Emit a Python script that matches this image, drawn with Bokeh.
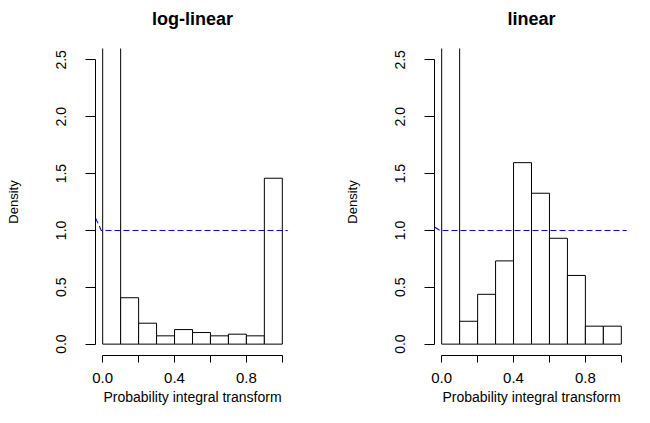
from bokeh.plotting import figure
from bokeh.models import Range1d, FixedTicker, LinearAxis
from bokeh.layouts import row
from bokeh.embed import file_html
from bokeh.resources import INLINE

# ---- data ----
bin_edges = [0.0, 0.1, 0.2, 0.3, 0.4, 0.5, 0.6, 0.7, 0.8, 0.9, 1.0]
loglinear_density = [7.43, 0.408, 0.184, 0.073, 0.128, 0.102, 0.073, 0.0875, 0.073, 1.459]
linear_density = [3.86, 0.201, 0.438, 0.732, 1.596, 1.327, 0.931, 0.604, 0.158, 0.158]
loglinear_ref_x = [-0.04, -0.008, 1.03]
loglinear_ref_y = [1.11, 1.0, 1.0]
linear_ref_x = [-0.04, -0.01, 1.03]
linear_ref_y = [1.03, 1.0, 1.0]
x_ticks = [0.0, 0.2, 0.4, 0.6, 0.8, 1.0]
x_tick_labels = {0.0: "0.0", 0.2: "", 0.4: "0.4", 0.6: "", 0.8: "0.8", 1.0: ""}
y_ticks = [0.0, 0.5, 1.0, 1.5, 2.0, 2.5]
y_tick_labels = {0.0: "0.0", 0.5: "0.5", 1.0: "1.0", 1.5: "1.5", 2.0: "2.0", 2.5: "2.5"}
titles = ["log-linear", "linear"]
x_label = "Probability integral transform"
y_label = "Density"

FONT = "Liberation Sans"
X0, X1 = -0.04, 1.04
Y0, Y1 = -0.1, 2.6


def make_panel(title, dens, rx, ry, width, border_left, border_right):
    p = figure(width=width, height=407, output_backend="svg", toolbar_location=None,
               x_range=Range1d(X0, X1), y_range=Range1d(Y0, Y1),
               min_border_left=border_left, min_border_right=border_right,
               min_border_top=48, min_border_bottom=51,
               background_fill_color="white", border_fill_color="white")
    p.outline_line_color = None
    p.grid.visible = False

    p.quad(left=bin_edges[:-1], right=bin_edges[1:], bottom=0, top=dens,
           fill_color="white", line_color="black", line_width=1)
    p.line(rx, ry, line_color="#0000FF", line_width=1.1, line_dash="6 3")

    xa = p.below[0]
    xa.bounds = (0, 1)
    xa.ticker = FixedTicker(ticks=x_ticks)
    xa.major_label_overrides = x_tick_labels
    xa.minor_tick_line_color = None
    xa.major_tick_out = 7
    xa.major_tick_in = 0
    xa.major_label_standoff = 10
    xa.major_label_text_font = FONT
    xa.major_label_text_font_size = "15px"
    xa.major_label_text_color = "black"
    xa.axis_label = x_label
    xa.axis_label_text_font = FONT
    xa.axis_label_text_font_size = "14px"
    xa.axis_label_text_font_style = "normal"
    xa.axis_label_text_color = "black"
    xa.axis_label_standoff = 3
    xa.axis_line_color = "black"
    xa.major_tick_line_color = "black"

    ya = p.left[0]
    ya.bounds = (0, 2.5)
    ya.ticker = FixedTicker(ticks=y_ticks)
    ya.major_label_overrides = y_tick_labels
    ya.minor_tick_line_color = None
    ya.major_tick_out = 10
    ya.major_tick_in = 0
    ya.major_label_orientation = "vertical"
    ya.major_label_standoff = 19
    ya.major_label_text_font = FONT
    ya.major_label_text_font_size = "14px"
    ya.major_label_text_color = "black"
    ya.axis_label = y_label
    ya.axis_label_text_font = FONT
    ya.axis_label_text_font_size = "13px"
    ya.axis_label_text_font_style = "normal"
    ya.axis_label_text_color = "black"
    ya.axis_label_standoff = 33
    ya.axis_line_color = "black"
    ya.major_tick_line_color = "black"

    # panel title, drawn as the label of a bare axis above the plot
    ta = LinearAxis(ticker=FixedTicker(ticks=[]), axis_label=title,
                    axis_line_color=None, major_tick_line_color=None,
                    minor_tick_line_color=None, major_tick_out=0, major_tick_in=0,
                    minor_tick_out=0, minor_tick_in=0, major_label_standoff=0,
                    axis_label_standoff=20, axis_label_text_font=FONT,
                    axis_label_text_font_size="18px", axis_label_text_font_style="bold",
                    axis_label_text_color="black")
    p.add_layout(ta, "above")
    return p


p1 = make_panel(titles[0], loglinear_density, loglinear_ref_x, loglinear_ref_y, 325, 95, 36)
p2 = make_panel(titles[1], linear_density, linear_ref_x, linear_ref_y, 309, 109, 6)

layout = row(p1, p2, spacing=0)
open("out.html", "w").write(file_html(layout, INLINE))
